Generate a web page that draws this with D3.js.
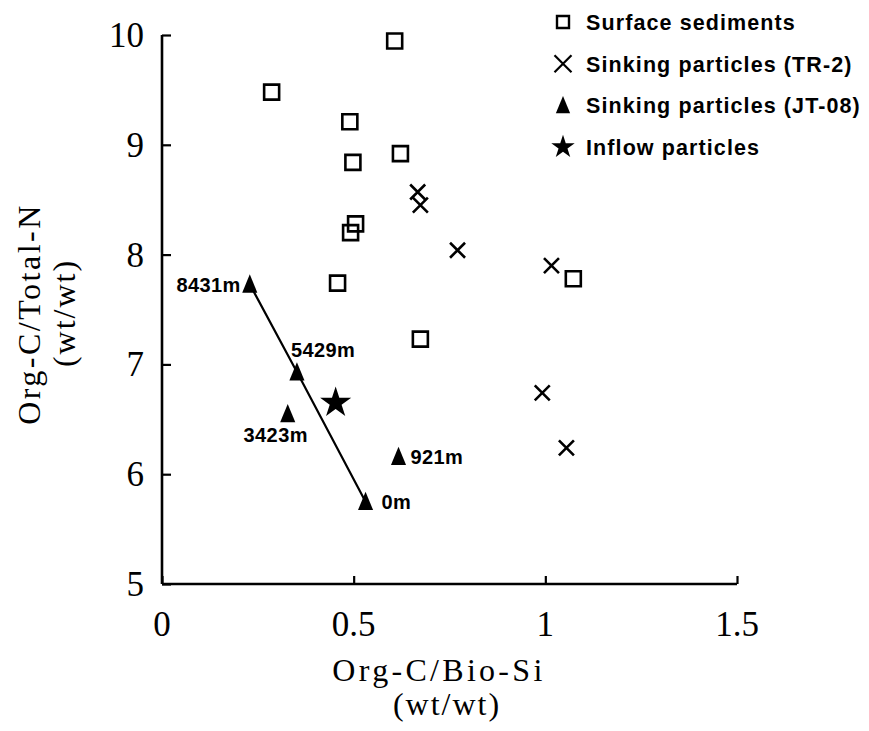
<!DOCTYPE html>
<html>
<head>
<meta charset="utf-8">
<script src="https://cdn.jsdelivr.net/npm/d3@7"></script>
<style>
  html, body { margin: 0; padding: 0; background: #fff; }
  svg { display: block; }
</style>
</head>
<body>
<svg id="chart" width="869" height="731"></svg>
<script>
// ---- data ----
const xTicks = [0, 0.5, 1, 1.5];
const xTickLabels = ["0", "0.5", "1", "1.5"];
const yTicks = [5, 6, 7, 8, 9, 10];
const yTickLabels = ["5", "6", "7", "8", "9", "10"];

const surfaceX = [0.607, 0.286, 0.490, 0.622, 0.498, 0.505, 0.492, 0.458, 1.073, 0.674];
const surfaceY = [9.945, 9.48, 9.21, 8.92, 8.84, 8.28, 8.20, 7.74, 7.78, 7.23];

const tr2X = [0.667, 0.674, 0.771, 1.016, 0.992, 1.055];
const tr2Y = [8.57, 8.45, 8.04, 7.90, 6.74, 6.24];

const jtDepth = ["8431m", "5429m", "3423m", "921m", "0m"];
const jtX = [0.229, 0.352, 0.328, 0.617, 0.531];
const jtY = [7.73, 6.93, 6.55, 6.16, 5.75];
const jtLineDepths = ["8431m", "5429m", "0m"];

const inflowX = [0.453];
const inflowY = [6.65];

const legendLabels = ["Surface sediments", "Sinking particles (TR-2)", "Sinking particles (JT-08)", "Inflow particles"];
const legendTypes = ["square", "cross", "triangle", "star"];

// ---- layout ----
const svg = d3.select("#chart");
const x = d3.scaleLinear().domain([0, 1.5]).range([162, 737]);
const y = d3.scaleLinear().domain([5, 10]).range([584, 35]);

const serif = "'Liberation Serif', 'Times New Roman', serif";
const sans = "'Liberation Sans', Arial, sans-serif";

// axes
const xAxis = d3.axisBottom(x).tickValues(xTicks).tickSize(-8).tickFormat("");
const yAxis = d3.axisLeft(y).tickValues(yTicks).tickSize(-9).tickFormat("");

const gx = svg.append("g").attr("transform", `translate(0,${y(5)})`).call(xAxis);
const gy = svg.append("g").attr("transform", `translate(${x(0)},0)`).call(yAxis);
[gx, gy].forEach(g => {
  g.select(".domain").attr("stroke", "#000").attr("stroke-width", 2.6);
  g.selectAll(".tick line").attr("stroke", "#000").attr("stroke-width", 2.2);
});
gx.select(".domain").attr("d", `M${x(0)},0H${x(1.5)}`);
gy.select(".domain").attr("d", `M0,${y(5)}V${y(10)}`);

// tick labels
svg.append("g").selectAll("text").data(xTicks).join("text")
  .attr("x", d => x(d)).attr("y", 636)
  .attr("text-anchor", "middle")
  .attr("font-family", serif).attr("font-size", 35)
  .text((d, i) => xTickLabels[i]);

svg.append("g").selectAll("text").data(yTicks).join("text")
  .attr("x", 144).attr("y", d => y(d) + 12)
  .attr("text-anchor", "end")
  .attr("font-family", serif).attr("font-size", 35)
  .text((d, i) => yTickLabels[i]);

// axis titles
svg.append("text").attr("x", 439).attr("y", 681).attr("text-anchor", "middle")
  .attr("font-family", serif).attr("font-size", 32).attr("letter-spacing", 3.3)
  .text("Org-C/Bio-Si");
svg.append("text").attr("x", 447).attr("y", 715).attr("text-anchor", "middle")
  .attr("font-family", serif).attr("font-size", 32).attr("letter-spacing", 2)
  .text("(wt/wt)");

svg.append("text").attr("transform", "translate(40,314) rotate(-90)").attr("text-anchor", "middle")
  .attr("font-family", serif).attr("font-size", 32).attr("letter-spacing", 2.5)
  .text("Org-C/Total-N");
svg.append("text").attr("transform", "translate(75,313) rotate(-90)").attr("text-anchor", "middle")
  .attr("font-family", serif).attr("font-size", 32).attr("letter-spacing", 2)
  .text("(wt/wt)");

// marker paths
function markerPath(type, s) {
  if (type === "square") { const h = s / 2; return `M${-h},${-h}H${h}V${h}H${-h}Z`; }
  if (type === "cross") { const h = s / 2; return `M${-h},${-h}L${h},${h}M${-h},${h}L${h},${-h}`; }
  if (type === "triangle") { const w = s * 0.42, hh = s * 0.55; return `M0,${-hh}L${w},${hh * 0.85}L${-w},${hh * 0.85}Z`; }
}
function styleMarker(sel, type) {
  if (type === "square") sel.attr("fill", "none").attr("stroke", "#000").attr("stroke-width", 2.6);
  else if (type === "cross") sel.attr("fill", "none").attr("stroke", "#000").attr("stroke-width", 2.6);
  else sel.attr("fill", "#000").attr("stroke", "none");
}

// JT-08 line
const jtLine = d3.line().x(d => x(jtX[jtDepth.indexOf(d)])).y(d => y(jtY[jtDepth.indexOf(d)]));
svg.append("path").datum(jtLineDepths).attr("d", jtLine)
  .attr("fill", "none").attr("stroke", "#000").attr("stroke-width", 2.2);

// surface sediments
svg.append("g").selectAll("path").data(surfaceX).join("path")
  .attr("transform", (d, i) => `translate(${x(d)},${y(surfaceY[i])})`)
  .attr("d", markerPath("square", 15))
  .call(s => styleMarker(s, "square"));

// TR-2
svg.append("g").selectAll("path").data(tr2X).join("path")
  .attr("transform", (d, i) => `translate(${x(d)},${y(tr2Y[i])})`)
  .attr("d", markerPath("cross", 15))
  .call(s => styleMarker(s, "cross"));

// JT-08
svg.append("g").selectAll("path").data(jtX).join("path")
  .attr("transform", (d, i) => `translate(${x(d)},${y(jtY[i])})`)
  .attr("d", markerPath("triangle", 18))
  .call(s => styleMarker(s, "triangle"));

const labelOffsets = {
  "8431m": { dx: -9, dy: 8, anchor: "end" },
  "5429m": { dx: -6, dy: -15, anchor: "start" },
  "3423m": { dx: -12, dy: 28, anchor: "middle" },
  "921m": { dx: 12, dy: 7, anchor: "start" },
  "0m": { dx: 16, dy: 7, anchor: "start" }
};
svg.append("g").selectAll("text").data(jtDepth).join("text")
  .attr("x", (d, i) => x(jtX[i]) + labelOffsets[d].dx)
  .attr("y", (d, i) => y(jtY[i]) + labelOffsets[d].dy)
  .attr("text-anchor", d => labelOffsets[d].anchor)
  .attr("font-family", sans).attr("font-weight", "bold").attr("font-size", 20)
  .attr("letter-spacing", 0.4)
  .text(d => d);

// inflow
svg.append("g").selectAll("path").data(inflowX).join("path")
  .attr("transform", (d, i) => `translate(${x(d)},${y(inflowY[i])})`)
  .attr("d", d3.symbol(d3.symbolStar, 300)())
  .attr("fill", "#000");

// legend
const leg = svg.append("g");
legendLabels.forEach((lab, i) => {
  const base = 30 + i * 41.7;
  const t = legendTypes[i];
  let p;
  if (t === "star") p = leg.append("path").attr("d", d3.symbol(d3.symbolStar, 170)());
  else p = leg.append("path").attr("d", markerPath(t, t === "square" ? 12 : 17));
  p.attr("transform", `translate(563,${base - 8})`);
  styleMarker(p, t);
  if (t === "square") p.attr("stroke-width", 2.4);
  if (t === "cross") p.attr("stroke-width", 2.2);
  leg.append("text").attr("x", 586).attr("y", base)
    .attr("font-family", sans).attr("font-weight", "bold").attr("font-size", 21.5)
    .attr("letter-spacing", 1.1)
    .text(lab);
});
</script>
</body>
</html>
